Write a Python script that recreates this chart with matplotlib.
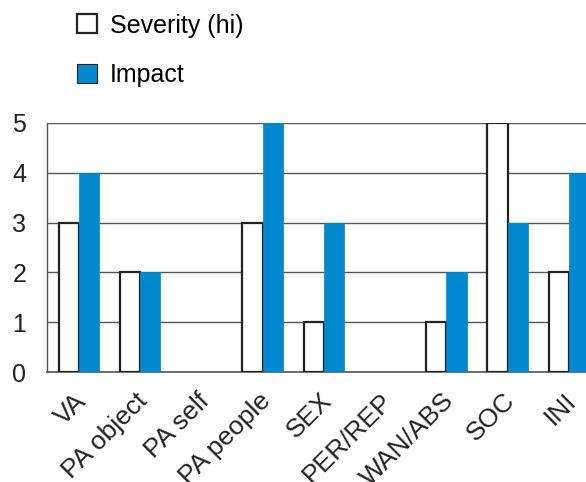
import numpy as np
import matplotlib
matplotlib.use("Agg")
import matplotlib.pyplot as plt
from matplotlib.transforms import ScaledTranslation

categories = ["VA", "PA object", "PA self", "PA people", "SEX",
              "PER/REP", "WAN/ABS", "SOC", "INI"]
severity = [3, 2, 0, 3, 1, 0, 1, 5, 2]
impact = [4, 2, 0, 5, 3, 0, 2, 3, 4]
y_ticks = [0, 1, 2, 3, 4, 5]

BLUE = "#0089cf"
GRID = "#555555"
BAR_W = 0.33
FS = 18

plt.rcParams["font.family"] = ["Liberation Sans", "DejaVu Sans"]

fig = plt.figure(figsize=(5.86, 4.82), dpi=100)
ax = fig.add_axes([47 / 586, 1 - 372 / 482, 1 - 47 / 586, 249 / 482])

x = np.arange(len(categories))
# empty categories get no outline at all
sev_edges = ["#222222" if v > 0 else "none" for v in severity]
sev_bars = ax.bar(x - BAR_W / 2, severity, width=BAR_W, color="white",
                  edgecolor=sev_edges, linewidth=1.6, zorder=3,
                  label="Severity (hi)")
imp_bars = ax.bar(x + BAR_W / 2, impact, width=BAR_W, color=BLUE,
                  edgecolor=BLUE, linewidth=0.5, zorder=3, label="Impact")

ax.set_xlim(-0.52, 8.28)
ax.set_ylim(0, 5)
ax.set_yticks(y_ticks)
ax.set_yticklabels([str(v) for v in y_ticks], fontsize=FS, color="#222222")
ax.yaxis.grid(True, color=GRID, linewidth=1.0, zorder=0)
ax.set_axisbelow(True)

ax.set_xticks(x)
ax.set_xticklabels(categories, rotation=45, ha="right", va="center",
                   rotation_mode="anchor", fontsize=19, color="#222222")
ax.tick_params(axis="both", length=0)
ax.tick_params(axis="x", pad=16)
ax.tick_params(axis="y", pad=15)

# nudge the slanted labels so their ends sit just right of the bars
shift = ScaledTranslation(0.04, -0.03, fig.dpi_scale_trans)
for label in ax.get_xticklabels():
    label.set_transform(label.get_transform() + shift)

for side in ["top", "right"]:
    ax.spines[side].set_visible(False)
ax.spines["left"].set_color(GRID)
ax.spines["bottom"].set_color(GRID)
ax.spines["left"].set_linewidth(1.0)
ax.spines["bottom"].set_linewidth(1.2)

legend_handles = [
    plt.Rectangle((0, 0), 1, 1, facecolor="white", edgecolor="#222222", linewidth=1.6),
    plt.Rectangle((0, 0), 1, 1, facecolor=BLUE, edgecolor="#222222", linewidth=0.8),
]
fig.legend(handles=legend_handles, labels=["Severity (hi)", "Impact"],
           loc="upper left", bbox_to_anchor=(54 / 586, 1 + 9 / 482),
           frameon=False, fontsize=FS, handlelength=0.8, handleheight=0.8,
           handletextpad=0.55, labelspacing=1.02)

fig.savefig("out.png", dpi=100)
